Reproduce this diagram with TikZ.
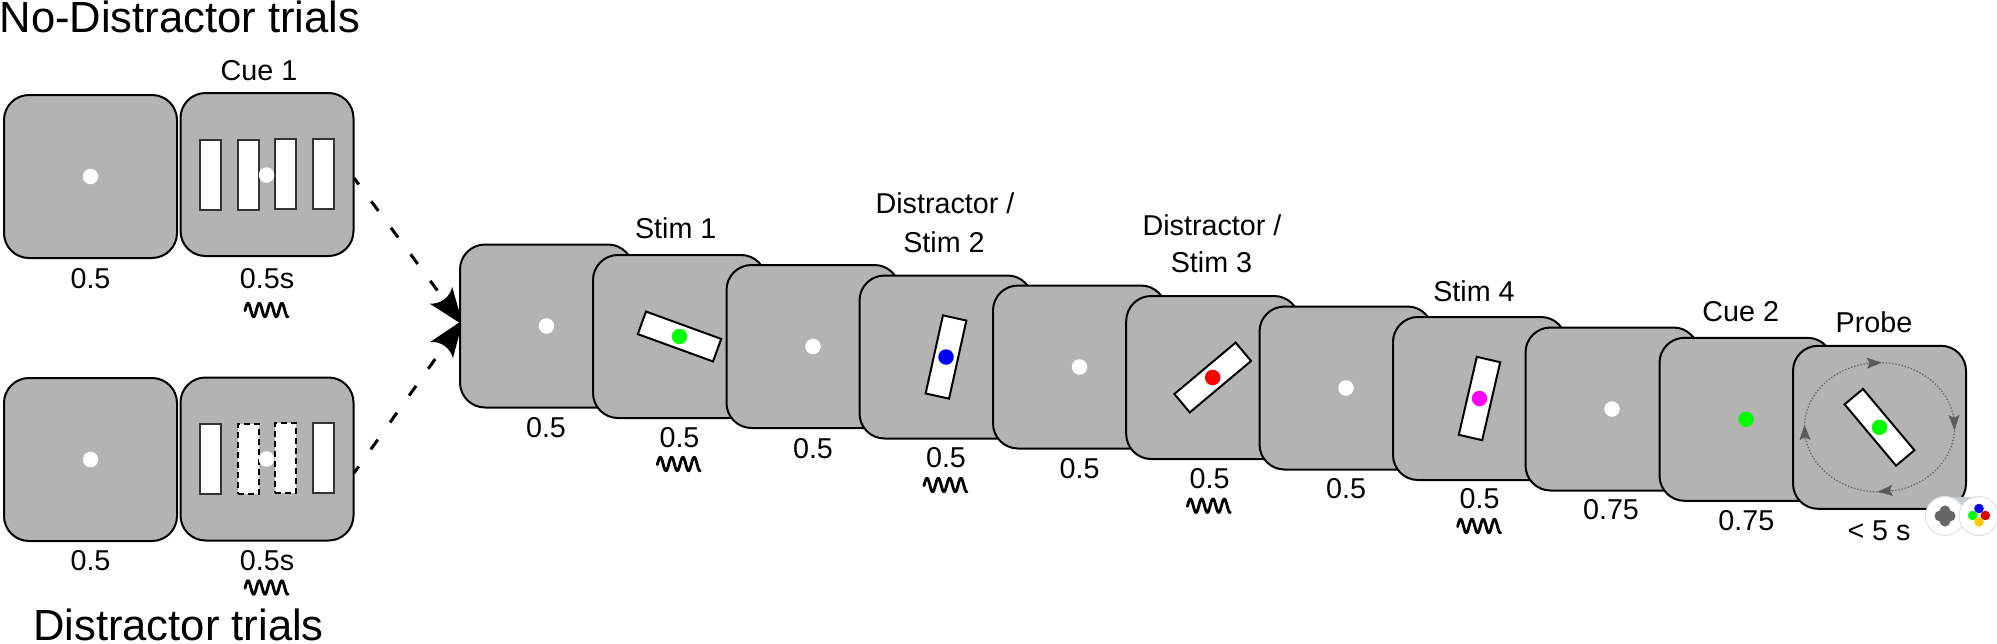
\documentclass[tikz,border=0pt]{standalone}
\usepackage{fontspec}
\setmainfont{Liberation Sans}
\usetikzlibrary{arrows.meta}
\definecolor{framegray}{HTML}{B3B3B3}
\definecolor{probegray}{HTML}{5A5A5A}
\definecolor{iconedge}{HTML}{DDE1E5}
\definecolor{iconlink}{HTML}{C6CDD3}
\definecolor{icondark}{HTML}{666666}
\definecolor{dotgreen}{HTML}{00FF00}
\definecolor{dotblue}{HTML}{0000FF}
\definecolor{dotred}{HTML}{FF0000}
\definecolor{dotmagenta}{HTML}{FF00FF}
\definecolor{iconred}{HTML}{D90000}
\definecolor{iconyellow}{HTML}{FFC800}
\pgfdeclarearrow{
  name=CurveKite,
  setup code={
    \pgfarrowssettipend{37pt}
    \pgfarrowssetbackend{0pt}
    \pgfarrowssetlineend{5pt}
    \pgfarrowssetvisualbackend{5pt}
  },
  drawing code={
    \pgfpathmoveto{\pgfqpoint{37pt}{0pt}}
    \pgfpathlineto{\pgfqpoint{0pt}{14pt}}
    \pgfpathcurveto{\pgfqpoint{7pt}{6pt}}{\pgfqpoint{7pt}{-6pt}}{\pgfqpoint{0pt}{-14pt}}
    \pgfpathclose
    \pgfusepathqfill
  }
}
\tikzset{
  frame/.style={draw=black,fill=framegray,line width=2pt,rounded corners=25pt,minimum width=173pt,minimum height=163pt,inner sep=0pt},
  fix/.style={circle,fill=white,minimum size=15.5pt,inner sep=0pt},
  cdot/.style={circle,fill=#1,minimum size=15.5pt,inner sep=0pt},
  cuebar/.style={draw=black!80,fill=white,line width=2pt,minimum width=21pt,minimum height=70pt,inner sep=0pt},
  dashbar/.style={draw=black,fill=white,line width=2pt,dash pattern=on 6pt off 4pt,minimum width=21pt,minimum height=70pt,inner sep=0pt},
  stimbar/.style={draw=black,fill=white,line width=2pt,minimum width=80pt,minimum height=24pt,inner sep=0pt},
  lab/.style={anchor=base,inner sep=0pt,font=\fontsize{28.7}{34}\selectfont},
  bigl/.style={anchor=base,inner sep=0pt,font=\fontsize{43.6}{50}\selectfont},
  cueline/.style={line width=3pt,dash pattern=on 12pt off 21pt,dash phase=4pt,-{CurveKite}},
  squig/.pic={\draw[line width=2.8pt,line cap=round,line join=round] plot[domain=-22:21,samples=80,smooth] (\x,{-6.8*cos(360*(\x+19)/11.3)});},
  probering/.style={draw=probegray,line width=1.2pt,dotted},
  probetip/.style={draw=probegray,line width=.5pt,-{Stealth[length=15pt,width=11pt,inset=3pt,fill=probegray]}},
}
\begin{document}
\begin{tikzpicture}[x=1pt,y=-1pt]
\useasboundingbox (0,0) rectangle (1997,643);
% headers
\node[bigl] (hA) at (180,32.5) {No-Distractor trials};
\node[bigl] (hB) at (178.5,640.5) {Distractor trials};
% connectors (behind the frames)
\coordinate (startA) at (354,178);
\coordinate (startB) at (354,473);
\coordinate (tipA) at (463,325);
\coordinate (tipB) at (463,320);
\draw[cueline] (startA) -- (tipA);
\draw[cueline] (startB) -- (tipB);
% left trials
\node[frame] (aF) at (90.5,176.5) {};
\node[fix] (aFd) at (aF.center) {};
\node[frame] (aC) at (267,174.5) {};
\node[cuebar] (ab1) at (210,175) {};
\node[cuebar] (ab2) at (248,175) {};
\node[cuebar] (ab3) at (285.5,174) {};
\node[cuebar] (ab4) at (323.5,174) {};
\node[fix] (aCd) at (266.5,175) {};
\node[frame] (bF) at (90.5,459.5) {};
\node[fix] (bFd) at (bF.center) {};
\node[frame] (bC) at (267,459) {};
\node[cuebar] (bb1) at (210,459) {};
\node[dashbar] (bb2) at (248,459) {};
\node[dashbar] (bb3) at (285.5,458) {};
\node[cuebar] (bb4) at (323.5,458) {};
\node[fix] (bCd) at (266.5,459) {};
\node[lab] at (259,80) {Cue 1};
\node[lab] at (90.5,288) {0.5};
\node[lab] at (267,288) {0.5s};
\node[lab] at (90.5,570) {0.5};
\node[lab] at (267,570.5) {0.5s};
\pic at (267,310) {squig};
\pic at (267,587.5) {squig};
% sequence
\node[frame] (f0) at (546.5,326) {};
\node[fix] at (f0.center) {};
\node[frame] (f1) at (679.5,336.5) {};
\node[stimbar,rotate=-20] at (f1.center) {};
\node[cdot=dotgreen] at (f1.center) {};
\node[frame] (f2) at (813,346.5) {};
\node[fix] at (f2.center) {};
\node[frame] (f3) at (946,357) {};
\node[stimbar,rotate=77.5] at (f3.center) {};
\node[cdot=dotblue] at (f3.center) {};
\node[frame] (f4) at (1079.5,367) {};
\node[fix] at (f4.center) {};
\node[frame] (f5) at (1212.7,377.5) {};
\node[stimbar,rotate=40] at (f5.center) {};
\node[cdot=dotred] at (f5.center) {};
\node[frame] (f6) at (1346,388) {};
\node[fix] at (f6.center) {};
\node[frame] (f7) at (1479.5,398.5) {};
\node[stimbar,rotate=77] at (f7.center) {};
\node[cdot=dotmagenta] at (f7.center) {};
\node[frame] (f8) at (1612,409) {};
\node[fix] at (f8.center) {};
\node[frame] (f9) at (1746,419.3) {};
\node[cdot=dotgreen] at (f9.center) {};
\node[frame] (f10) at (1879.5,427.3) {};
\draw[probering] (f10.center) ellipse [x radius=75,y radius=64.7];
\coordinate (pt1) at (1866,363.2);
\coordinate (pt2) at (1881.7,362.6);
\coordinate (pr1) at (1954,415);
\coordinate (pr2) at (1954.5,430);
\coordinate (pb1) at (1893,490.4);
\coordinate (pb2) at (1877.7,491.7);
\coordinate (pl1) at (1805,440);
\coordinate (pl2) at (1804.5,425);
\draw[probetip] (pt1) -- (pt2);
\draw[probetip] (pr1) -- (pr2);
\draw[probetip] (pb1) -- (pb2);
\draw[probetip] (pl1) -- (pl2);
\node[stimbar,rotate=-50] at (f10.center) {};
\node[cdot=dotgreen] at (f10.center) {};
% labels
\node[lab] at (675.7,238) {Stim 1};
\node[lab] at (945,213) {Distractor /};
\node[lab] at (944,252) {Stim 2};
\node[lab] at (1212,235) {Distractor /};
\node[lab] at (1211.5,272) {Stim 3};
\node[lab] at (1474,301) {Stim 4};
\node[lab] at (1740.7,321) {Cue 2};
\node[lab] at (1874,332) {Probe};
\node[lab] at (546,437) {0.5};
\node[lab] at (679.5,447) {0.5};
\node[lab] at (813,458) {0.5};
\node[lab] at (946,467.5) {0.5};
\node[lab] at (1079.6,478) {0.5};
\node[lab] at (1209.5,488.5) {0.5};
\node[lab] at (1346,498.5) {0.5};
\node[lab] at (1479.6,508.5) {0.5};
\node[lab] at (1611,519) {0.75};
\node[lab] at (1746.3,530) {0.75};
\node[lab] at (1879,540) {< 5 s};
\pic at (679.3,464) {squig};
\pic at (946,485) {squig};
\pic at (1209.4,505.7) {squig};
\pic at (1479.6,526) {squig};
% response icons
\fill[iconlink] (1945,497) -- (1978,497) -- (1961.5,520) -- cycle;
\node[circle,draw=iconedge,fill=white,line width=1pt,minimum size=39pt,inner sep=0pt] (ic1) at (1945,516) {};
\node[circle,draw=iconedge,fill=white,line width=1pt,minimum size=39pt,inner sep=0pt] (ic2) at (1978.5,516) {};
\foreach \dx/\dy in {-5/0,5/0,0/-5,0/5} \fill[icondark] (1945+\dx,516+\dy) circle (5.5);
\fill[dotblue] (1979,508.5) circle (4.8);
\fill[dotgreen] (1972.7,515.5) circle (4.8);
\fill[iconred] (1985.3,515.5) circle (4.8);
\fill[iconyellow] (1979,522) circle (4.8);
\end{tikzpicture}
\end{document}
